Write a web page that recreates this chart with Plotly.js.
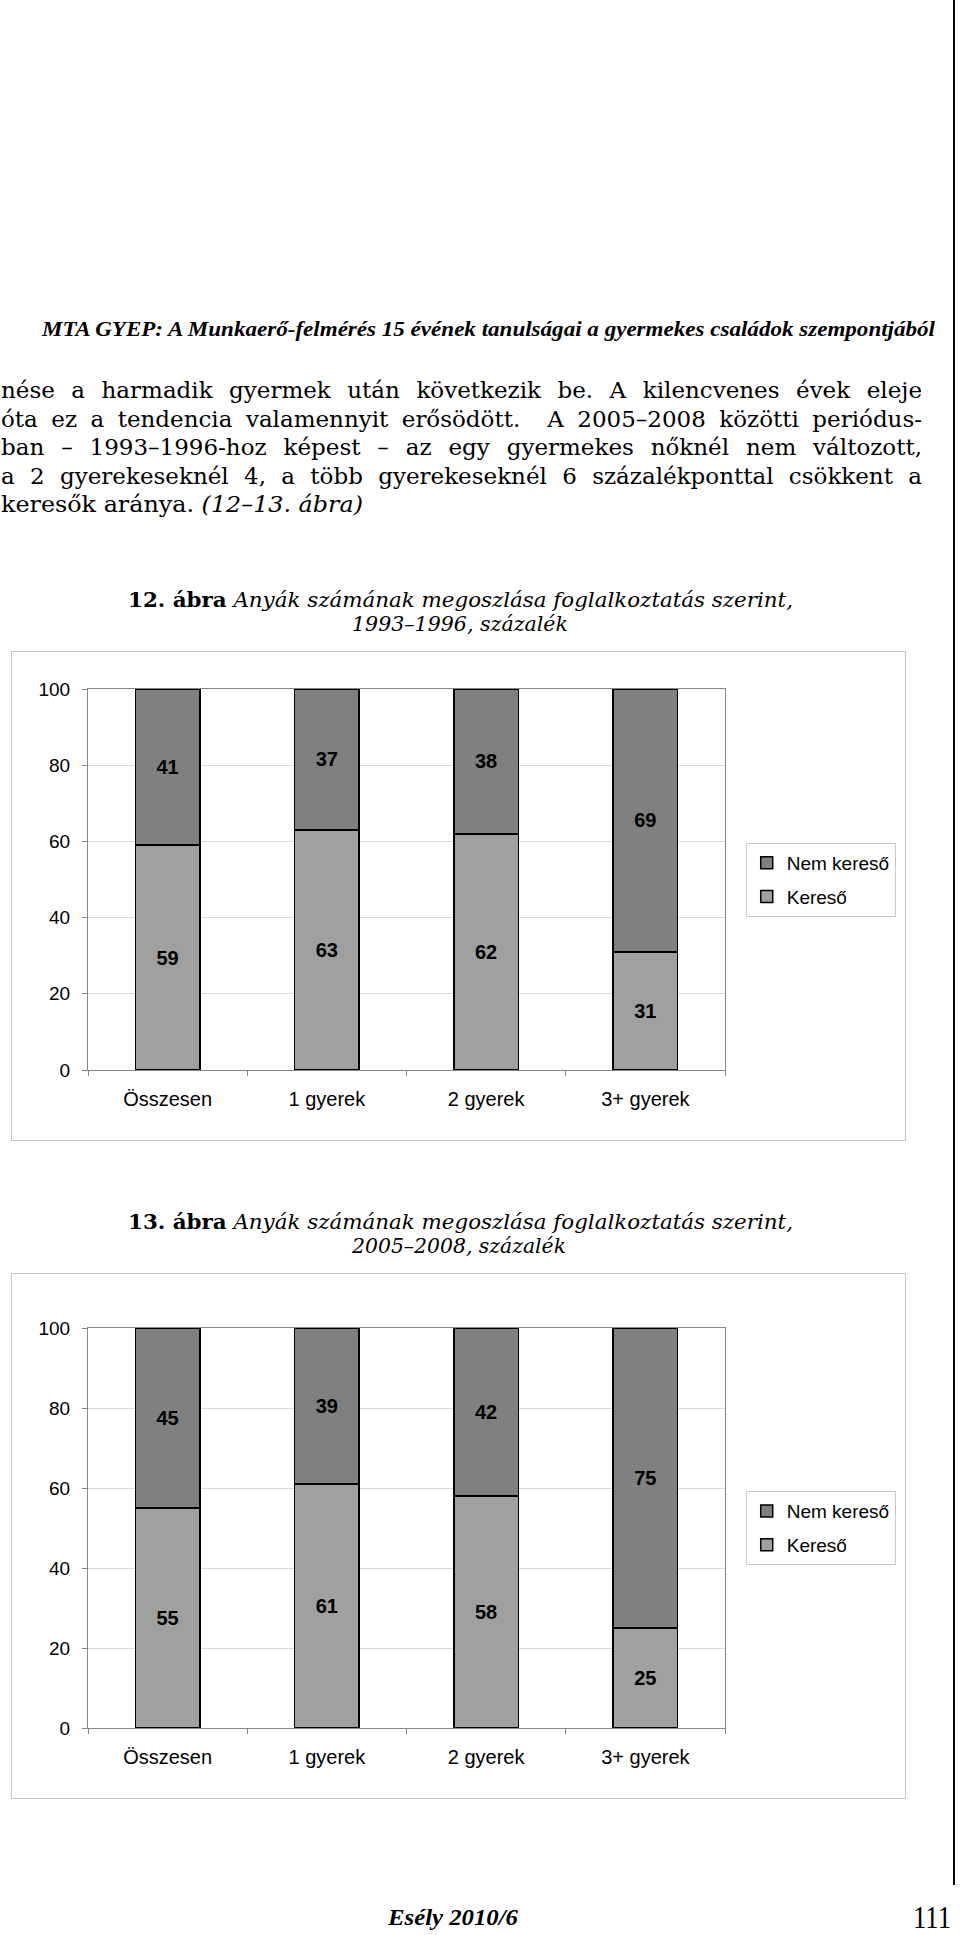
<!DOCTYPE html>
<html>
<head>
<meta charset="utf-8">
<script src="https://cdn.plot.ly/plotly-3.0.1.min.js"></script>
<style>
  html, body { margin: 0; padding: 0; background: #fff; }
  body { width: 960px; height: 1935px; position: relative; overflow: hidden; }
  #page { position: absolute; left: 0; top: 0; }
  .frame { position: absolute; border: 1px solid #c6c6c6; background: #fff; }
</style>
</head>
<body>
<svg id="page" width="960" height="1935" xmlns="http://www.w3.org/2000/svg"></svg>
<div class="frame" style="left:11px;top:651px;width:893px;height:488px"><div id="chart1"></div></div>
<div class="frame" style="left:11px;top:1273px;width:893px;height:524px"><div id="chart2"></div></div>
<script>
// ---------- data ----------
const categories = ['Összesen', '1 gyerek', '2 gyerek', '3+ gyerek'];
const seriesNames = ['Kereső', 'Nem kereső'];
const kereso1993 = [59, 63, 62, 31];
const nemKereso1993 = [41, 37, 38, 69];
const kereso2005 = [55, 61, 58, 25];
const nemKereso2005 = [45, 39, 42, 75];
const yTicks = [0, 20, 40, 60, 80, 100];

const headerText = 'MTA GYEP: A Munkaerő-felmérés 15 évének tanulságai a gyermekes családok szempontjából';
const bodyLines = [
  'nése a harmadik gyermek után következik be. A kilencvenes évek eleje',
  'óta ez a tendencia valamennyit erősödött.  A 2005–2008 közötti periódus-',
  'ban – 1993–1996-hoz képest – az egy gyermekes nőknél nem változott,',
  'a 2 gyerekeseknél 4, a több gyerekeseknél 6 százalékponttal csökkent a'
];
const bodyLast = 'keresők aránya. ';
const bodyLastItalic = '(12–13. ábra)';
const caption1a = '12. ábra';
const caption1b = ' Anyák számának megoszlása foglalkoztatás szerint,';
const caption1c = '1993–1996, százalék';
const caption2a = '13. ábra';
const caption2b = ' Anyák számának megoszlása foglalkoztatás szerint,';
const caption2c = '2005–2008, százalék';
const footerText = 'Esély 2010/6';
const pageNumber = '111';

// ---------- page text (SVG) ----------
const NS = 'http://www.w3.org/2000/svg';
const svg = document.getElementById('page');

function addLine(parts, x, y, width, family, size, mode) {
  const t = document.createElementNS(NS, 'text');
  t.setAttribute('x', x);
  t.setAttribute('y', y);
  t.setAttribute('font-family', family);
  t.setAttribute('font-size', size);
  t.setAttribute('fill', '#000');
  t.style.whiteSpace = 'pre';
  let full = '';
  parts.forEach(p => {
    const s = document.createElementNS(NS, 'tspan');
    s.textContent = p.t;
    full += p.t;
    if (p.w) s.setAttribute('font-weight', p.w);
    if (p.i) s.setAttribute('font-style', 'italic');
    t.appendChild(s);
  });
  svg.appendChild(t);
  if (width) {
    const L = t.getComputedTextLength();
    const n = (full.match(/ /g) || []).length;
    if (mode === 'justify' && L < width && n > 0) {
      t.style.wordSpacing = ((width - L) / n) + 'px';
    } else {
      t.setAttribute('textLength', width);
      t.setAttribute('lengthAdjust', 'spacingAndGlyphs');
    }
  }
  return t;
}

const SERIF = 'DejaVu Serif, serif';
const SERIF2 = 'Liberation Serif, serif';

addLine([{t: headerText, w: 'bold', i: true}], 42, 336, 893, SERIF2, 20);

const bodyY = [398, 427, 455, 484];
bodyLines.forEach((ln, i) => addLine([{t: ln}], 1, bodyY[i], 921, SERIF, 23, 'justify'));
addLine([{t: bodyLast}, {t: bodyLastItalic, i: true}], 1, 512, 362, SERIF, 23);

addLine([{t: caption1a, w: 'bold'}, {t: caption1b, i: true}], 128, 607, 665, SERIF, 20);
addLine([{t: caption1c, i: true}], 352, 631, 216, SERIF, 20);
addLine([{t: caption2a, w: 'bold'}, {t: caption2b, i: true}], 128, 1229, 665, SERIF, 20);
addLine([{t: caption2c, i: true}], 352, 1253, 214, SERIF, 20);

addLine([{t: footerText, w: 'bold', i: true}], 388, 1925, 130, SERIF2, 24);
addLine([{t: pageNumber}], 913, 1928, 38, SERIF2, 32);

const border = document.createElementNS(NS, 'line');
border.setAttribute('x1', 954); border.setAttribute('x2', 954);
border.setAttribute('y1', 0); border.setAttribute('y2', 1885);
border.setAttribute('stroke', '#000'); border.setAttribute('stroke-width', 2);
svg.appendChild(border);

// ---------- charts ----------
const FONT = 'Liberation Sans, Arial, sans-serif';

function makeChart(divId, kereso, nemKereso, height, top, legendY) {
  const common = {
    type: 'bar',
    x: categories,
    textposition: 'inside',
    insidetextanchor: 'middle',
    constraintext: 'none',
    textfont: {family: FONT, size: 20, color: '#000', weight: 'bold'},
    hoverinfo: 'skip'
  };
  const traces = [
    Object.assign({}, common, {
      name: seriesNames[0], y: kereso, text: kereso.map(String),
      legendgroup: 'a', legendrank: 2,
      marker: {color: '#a0a0a0', line: {color: '#000', width: 1.5}}
    }),
    Object.assign({}, common, {
      name: seriesNames[1], y: nemKereso, text: nemKereso.map(String),
      legendgroup: 'b', legendrank: 1,
      marker: {color: '#808080', line: {color: '#000', width: 1.5}}
    })
  ];
  const layout = {
    width: 893, height: height,
    margin: {l: 76, r: 180, t: top, b: 70, pad: 0, autoexpand: false},
    barmode: 'stack',
    bargap: 0.594,
    paper_bgcolor: '#fff',
    plot_bgcolor: '#fff',
    font: {family: FONT, size: 20, color: '#000'},
    showlegend: true,
    legend: {
      x: 1.268, xanchor: 'right', y: legendY, yanchor: 'top',
      bordercolor: '#c8c8c8', borderwidth: 1, bgcolor: '#fff',
      font: {family: FONT, size: 19, color: '#000'},
      itemwidth: 30,
      traceorder: 'grouped', tracegroupgap: 6
    },
    xaxis: {
      type: 'category', showline: true, mirror: true, linecolor: '#868686', linewidth: 1,
      ticks: 'outside', tickson: 'boundaries', ticklen: 5, tickcolor: '#868686',
      tickfont: {family: FONT, size: 20, color: '#000'}, ticklabelstandoff: 11,
      showgrid: false, fixedrange: true
    },
    yaxis: {
      range: [0, 100], tickvals: yTicks, ticktext: yTicks.map(String),
      showgrid: true, gridcolor: '#d9d9d9', gridwidth: 1,
      showline: true, mirror: true, linecolor: '#868686', linewidth: 1,
      ticks: 'outside', ticklen: 5, tickcolor: '#868686', zeroline: false,
      tickfont: {family: FONT, size: 19, color: '#000'}, ticklabelstandoff: 8,
      fixedrange: true
    }
  };
  Plotly.newPlot(divId, traces, layout, {staticPlot: true, displayModeBar: false});
}

makeChart('chart1', kereso1993, nemKereso1993, 488, 37, 0.596);
makeChart('chart2', kereso2005, nemKereso2005, 524, 54, 0.592);
</script>
</body>
</html>
